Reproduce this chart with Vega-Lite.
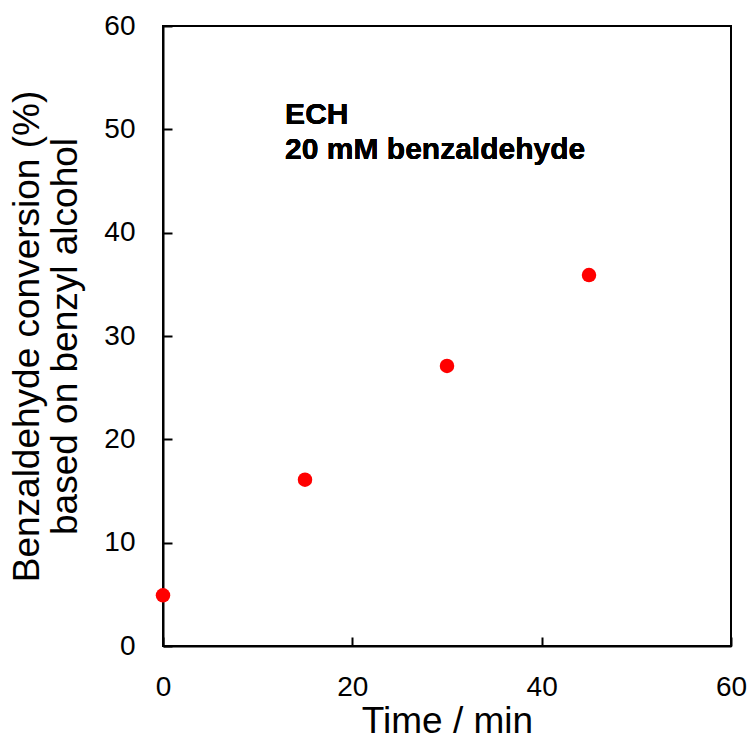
{
  "$schema": "https://vega.github.io/schema/vega-lite/v6.json",
  "width": 568,
  "height": 620,
  "autosize": {"type": "none"},
  "padding": {"left": 163, "top": 26, "right": 20, "bottom": 94},
  "background": "white",
  "config": {
    "font": "Liberation Sans",
    "view": {"stroke": "black", "strokeWidth": 2},
    "axis": {
      "grid": false,
      "domainColor": "black",
      "domainWidth": 2,
      "tickColor": "black",
      "tickWidth": 2,
      "labelColor": "black",
      "labelFont": "Liberation Sans",
      "labelFontSize": 28,
      "labelFlush": false,
      "labelOverlap": false,
      "titleColor": "black",
      "titleFont": "Liberation Sans",
      "titleFontSize": 37,
      "titleFontWeight": "normal"
    }
  },
  "data": {
    "values": [
      {"time": 0, "conversion": 4.9},
      {"time": 15, "conversion": 16.1},
      {"time": 30, "conversion": 27.1},
      {"time": 45, "conversion": 35.9}
    ]
  },
  "layer": [
    {
      "mark": {"type": "point", "filled": true, "color": "#ff0000", "opacity": 1, "size": 210, "shape": "circle"},
      "encoding": {
        "x": {
          "field": "time", "type": "quantitative",
          "scale": {"domain": [0, 60], "nice": false},
          "axis": {"values": [0, 20, 40, 60], "title": "Time / min", "tickSize": {"expr": "-9"}, "labelPadding": 36, "titlePadding": 2}
        },
        "y": {
          "field": "conversion", "type": "quantitative",
          "scale": {"domain": [0, 60], "nice": false},
          "axis": {"values": [0, 10, 20, 30, 40, 50, 60], "title": ["Benzaldehyde conversion (%)", "based on benzyl alcohol"], "tickSize": {"expr": "-9"}, "labelPadding": 37, "titlePadding": 19, "titleLineHeight": 38}
        }
      }
    },
    {
      "mark": {"type": "text", "align": "left", "baseline": "alphabetic", "fontSize": 30, "fontWeight": "bold", "font": "Liberation Sans", "color": "black", "lineHeight": 35},
      "encoding": {
        "x": {"datum": 12.9, "type": "quantitative"},
        "y": {"datum": 50.5, "type": "quantitative"},
        "text": {"value": ["ECH", "20 mM benzaldehyde"]}
      }
    }
  ]
}
